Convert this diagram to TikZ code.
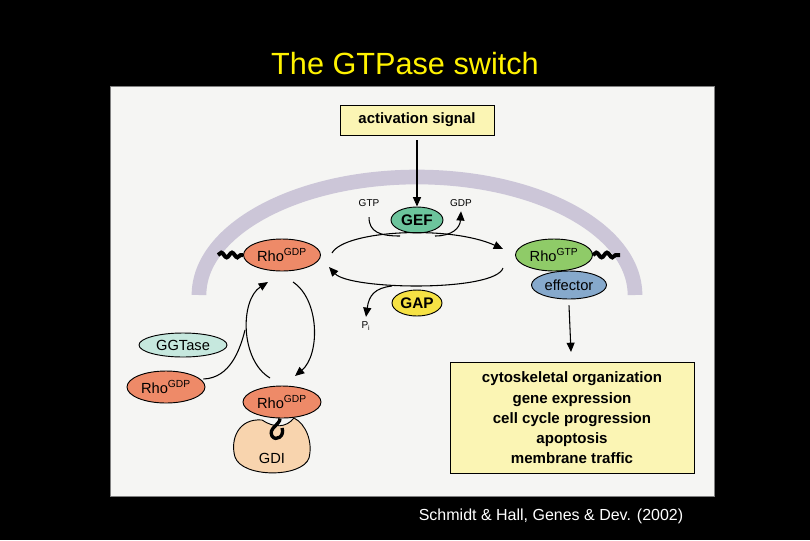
\documentclass[tikz,border=0pt]{standalone}
\usepackage{fontspec}
\setmainfont{Liberation Sans}
\usetikzlibrary{arrows.meta,decorations.pathmorphing,shapes.geometric}
\definecolor{rho}{HTML}{EE8A68}
\definecolor{gtp}{HTML}{8FCB68}
\definecolor{eff}{HTML}{86A9CC}
\definecolor{gef}{HTML}{6CC49C}
\definecolor{gap}{HTML}{F6E244}
\definecolor{ggt}{HTML}{C6E8DE}
\definecolor{gdi}{HTML}{F8D4AE}
\definecolor{boxy}{HTML}{FBF5B4}
\definecolor{band}{HTML}{CCC6D8}
\definecolor{panel}{HTML}{F5F5F3}
\begin{document}
\begin{tikzpicture}[x=0.75pt,y=-0.75pt,
  ell/.style={draw=black,line width=0.7pt,ellipse,inner sep=0pt,font=\fontsize{11}{12}\selectfont},
  arr/.style={line width=0.8pt,-{Triangle[length=7pt,width=6pt]}},
  sm/.style={font=\fontsize{7.5}{9}\selectfont},
  sq/.style={line width=3pt,decorate,decoration={snake,amplitude=1.8pt,segment length=8pt}}]
\fill[black] (0,0) rectangle (810,540);
\useasboundingbox (0,0) rectangle (810,540);
\node[text=yellow,font=\fontsize{23}{26}\selectfont] (title) at (405,64) {The GTPase switch};
\fill[panel] (110,86) rectangle (714,496);
\draw[gray,line width=0.6pt] (110,86) rectangle (714,496);
\node[white,font=\fontsize{12}{14}\selectfont] (cite) at (551,516) {Schmidt \& Hall, Genes \& Dev. (2002)};
% membrane band
\draw[band,line width=11pt] (199,295) arc[start angle=180,end angle=360,x radius=218,y radius=118];
% activation
\node[draw,fill=boxy,line width=0.7pt,minimum width=154*0.75pt,minimum height=30*0.75pt,font=\fontsize{11.2}{12}\selectfont\bfseries] (act) at (417,120) {activation signal};
\node[ell,fill=gef,minimum width=52*0.75pt,minimum height=26*0.75pt,font=\fontsize{11.5}{12}\selectfont\bfseries] (gef) at (417,220) {GEF};
\draw[arr] (act.south) ++(0,5) coordinate (a0) -- (gef.north);
\node[sm] (gtpl) at (369,203) {GTP};
\node[sm] (gdpl) at (461,203) {GDP};
\node[ell,fill=rho,minimum width=77*0.75pt,minimum height=32*0.75pt] (r1) at (282,255) {Rho\textsuperscript{GDP}};
\node[ell,fill=gtp,minimum width=77*0.75pt,minimum height=32*0.75pt] (r2) at (554,255) {Rho\textsuperscript{GTP}};
\node[ell,fill=eff,minimum width=75*0.75pt,minimum height=28*0.75pt] (eff) at (569,285) {effector};
\node[ell,fill=gap,minimum width=50*0.75pt,minimum height=26*0.75pt,font=\fontsize{11.5}{12}\selectfont\bfseries] (gap) at (417,303) {GAP};
\node[sm] (pi) at (366,326) {P\textsubscript{i}};
\draw[sq] (218,255) -- (r1.west);
\draw[sq] (r2.east) -- (620,255);
% cycle
\coordinate (c1) at (332,253); \coordinate (c2) at (503,249);
\coordinate (c3) at (503,268); \coordinate (c4) at (329,267);
\draw[arr] (c1) .. controls (345,230) and (450,225) .. (c2);
\draw[arr] (c3) .. controls (495,292) and (350,290) .. (c4);
\draw[line width=0.8pt] (gtpl.south) ++(0,6) coordinate (g0) .. controls (369,232) and (380,236) .. (400,236);
\draw[arr] (435,236) .. controls (452,236) and (460,228) .. (gdpl.south);
\draw[arr] (392,286) .. controls (375,288) and (369,295) .. (pi.north);
% vertical cycle
\node[ell,fill=ggt,minimum width=88*0.75pt,minimum height=24*0.75pt] (ggt) at (183,345) {GGTase};
\node[ell,fill=rho,minimum width=78*0.75pt,minimum height=32*0.75pt] (r3) at (166,387) {Rho\textsuperscript{GDP}};
\coordinate (v1) at (270,378); \coordinate (v2) at (293,282); \coordinate (v0) at (268,282);
\draw[arr] (v1) .. controls (240,360) and (240,300) .. (v0);
\draw[arr] (v2) .. controls (320,300) and (320,355) .. (295,376);
\draw[line width=0.8pt] (r3.east) ++(-2,-8) coordinate (v3) .. controls (230,378) and (240,350) .. (245,330);
% GDI
\path[fill=gdi,draw=black,line width=0.7pt] (262,420) .. controls (238,418) and (230,440) .. (235,457)
  .. controls (242,478) and (302,478) .. (309,458) .. controls (313,442) and (306,424) .. (294,418)
  .. controls (286,428) and (274,428) .. (262,420) -- cycle;
\node[ell,fill=rho,minimum width=78*0.75pt,minimum height=32*0.75pt] (r4) at (282,402) {Rho\textsuperscript{GDP}};
\node[font=\fontsize{11}{12}\selectfont] (gdi) at (272,458) {GDI};
\draw[line width=2.5pt] (r4.south) ++(-2,0) coordinate (s0) .. controls (280,425) and (268,428) .. (272,436) .. controls (276,442) and (285,436) .. (282,428);
% output
\draw[arr] (eff.south) ++(0,6) coordinate (e0) -- (571,352);
\node[draw,fill=boxy,line width=0.7pt,minimum width=244*0.75pt,minimum height=111*0.75pt,align=center,font=\fontsize{11.3}{15.2}\selectfont\bfseries] (out) at (572,418) {cytoskeletal organization\\gene expression\\cell cycle progression\\apoptosis\\membrane traffic};
\end{tikzpicture}
\end{document}
